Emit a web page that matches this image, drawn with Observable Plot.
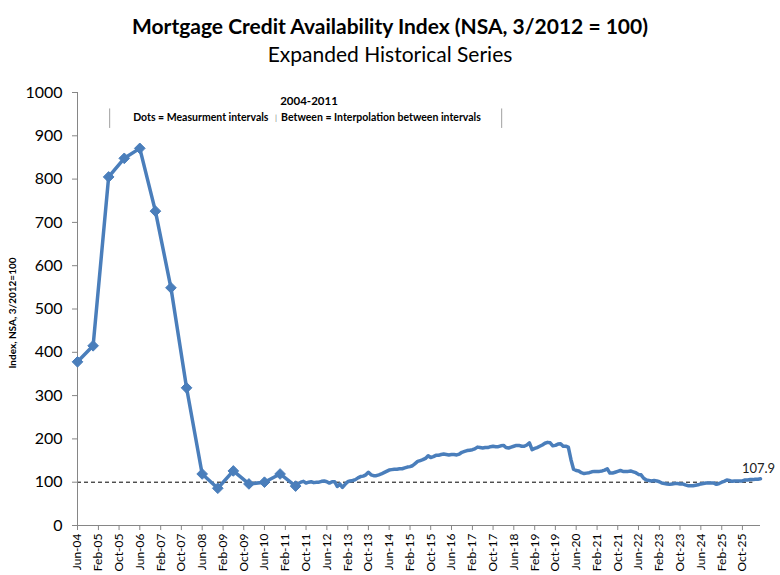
<!DOCTYPE html>
<html>
<head>
<meta charset="utf-8">
<script src="https://cdn.jsdelivr.net/npm/d3@7"></script>
<script src="https://cdn.jsdelivr.net/npm/@observablehq/plot@0.6"></script>
<style>
  html, body { margin: 0; padding: 0; background: #fff; }
  #wrap { position: relative; width: 780px; height: 575px; font-family: Lato, "Open Sans", sans-serif; color: #000; }
  #title { position: absolute; top: 13px; left: 0; width: 780px; text-align: center; font-size: 21px; font-weight: bold; line-height: 26px; }
  #subtitle { position: absolute; top: 41px; left: 0; width: 780px; text-align: center; font-size: 21px; line-height: 26px; }
  #chart { position: absolute; top: 72px; left: 0; }
</style>
</head>
<body>
<div id="wrap">
  <div id="title">Mortgage Credit Availability Index (NSA, 3/2012 = 100)</div>
  <div id="subtitle">Expanded Historical Series</div>
  <div id="chart"></div>
</div>
<script>
// Measurement intervals 2004-2011 (dots)
const earlyLabels = ["Jun-04","Dec-04","Jun-05","Dec-05","Jun-06","Dec-06","Jun-07","Dec-07","Jun-08","Dec-08","Jun-09","Dec-09","Jun-10","Dec-10","Jun-11"];
const earlyValues = [378, 415, 805, 848, 871, 726, 549, 318, 119, 86, 126, 96, 100, 119, 91];

// Monthly series from Jul-11
const monthlyStart = "Jul-11";
const monthlyValues = [
  97, 100, 102, 98, 100, 101, 99, 100, 100, 102, 103,
  101, 98, 101, 101, 90, 96, 88, 95, 101, 103, 104, 106,
  110, 113, 114, 117, 123, 117, 115, 115, 117, 119, 122, 125,
  128, 129, 130, 130, 131, 131, 133, 135, 136, 138, 143, 148,
  150, 152, 155, 161, 157, 159, 162, 162, 164, 165, 164, 163,
  164, 164, 163, 165, 169, 171, 173, 174, 175, 177, 181, 180,
  179, 180, 180, 182, 183, 182, 182, 184, 185, 180, 179, 181,
  183, 185, 185, 183, 183, 186, 191, 175, 178, 180, 183, 186,
  190, 192, 191, 184, 185, 188, 189, 183, 183, 181, 152, 130,
  127, 126, 122, 120, 121, 122, 124, 125, 125, 125, 126, 128,
  131, 121, 121, 123, 125, 127, 125, 125, 125, 126, 124, 122,
  118, 117, 109, 105, 104, 103, 104, 103, 101, 98, 97, 96,
  95, 96, 97, 97, 96, 96, 94, 92, 92, 92, 93, 94,
  96, 97, 98, 98, 98, 98, 95, 97, 100, 102, 105, 104,
  102, 103, 103, 103, 103, 105, 105, 106, 106, 107, 107, 107.9
];

const xTickLabels = ["Jun-04","Feb-05","Oct-05","Jun-06","Feb-07","Oct-07","Jun-08","Feb-09","Oct-09","Jun-10","Feb-11","Oct-11","Jun-12","Feb-13","Oct-13","Jun-14","Feb-15","Oct-15","Jun-16","Feb-17","Oct-17","Jun-18","Feb-19","Oct-19","Jun-20","Feb-21","Oct-21","Jun-22","Feb-23","Oct-23","Jun-24","Feb-25","Oct-25"];
const yTicks = [0, 100, 200, 300, 400, 500, 600, 700, 800, 900, 1000];
const referenceLevel = 100;

const yearNote = "2004-2011";
const noteLeft = "Dots = Measurment intervals";
const noteRight = "Between = Interpolation between intervals";
const yTitle = "Index, NSA, 3/2012=100";

const parse = d3.utcParse("%b-%y");
const fmt = d3.utcFormat("%b-%y");

const dots = earlyLabels.map((l, i) => ({date: parse(l), value: earlyValues[i]}));
const start = parse(monthlyStart);
const monthly = monthlyValues.map((v, i) => ({date: d3.utcMonth.offset(start, i), value: v}));
const series = dots.concat(monthly);
const last = series[series.length - 1];
const xTicks = xTickLabels.map(parse);

const blue = "#4A7EBB";
const gray = "#868686";
const d = s => new Date(s);

const chart = Plot.plot({
  width: 780,
  height: 503,
  marginLeft: 77,
  marginRight: 20,
  marginTop: 20,
  marginBottom: 50,
  style: {fontFamily: "Lato, 'Open Sans', sans-serif", color: "#000", background: "#fff"},
  x: {type: "utc", domain: [parse("Jun-04"), parse("May-26")]},
  y: {domain: [0, 1000]},
  marks: [
    Plot.ruleY([{y: referenceLevel, x1: parse("Jun-04"), x2: parse("Feb-26")}], {y: "y", x1: "x1", x2: "x2", stroke: "#000", strokeWidth: 1, strokeDasharray: "4,3"}),
    Plot.ruleY([0], {stroke: gray, strokeWidth: 1}),
    Plot.ruleX([{x: parse("Jun-04")}], {x: "x", stroke: gray, strokeWidth: 1}),
    Plot.axisY({ticks: yTicks, tickFormat: v => String(v), tickSize: 5, tickPadding: 10, fontSize: 16, stroke: gray, label: null}),
    Plot.axisX({ticks: xTicks, tickFormat: fmt, tickRotate: -90, tickSize: 5, tickPadding: 3, fontSize: 12, stroke: gray, label: null}),
    Plot.line(series, {x: "date", y: "value", stroke: blue, strokeWidth: 3.5, strokeLinejoin: "round"}),
    Plot.dot(dots, {x: "date", y: "value", symbol: "diamond2", r: 4.8, fill: blue, stroke: blue, strokeWidth: 1}),
    Plot.text([last], {x: "date", y: "value", text: v => v.value.toFixed(1), dy: -10, dx: -2, fontSize: 13, fill: "#222"}),
    // annotation
    Plot.text([{x: d("2011-11-05"), y: 980, t: yearNote}], {x: "x", y: "y", text: "t", fontSize: 11.5, fontWeight: "bold"}),
    Plot.text([{x: d("2010-07-18"), y: 941, t: noteLeft}], {x: "x", y: "y", text: "t", textAnchor: "end", fontSize: 10.5, fontWeight: "bold"}),
    Plot.text([{x: d("2010-10-13"), y: 941, t: "|"}], {x: "x", y: "y", text: "t", fontSize: 8, fill: gray}),
    Plot.text([{x: d("2010-12-13"), y: 941, t: noteRight}], {x: "x", y: "y", text: "t", textAnchor: "start", fontSize: 10.5, fontWeight: "bold"}),
    Plot.ruleX([{x: d("2005-06-13"), y1: 917, y2: 962}, {x: d("2018-01-10"), y1: 917, y2: 962}], {x: "x", y1: "y1", y2: "y2", stroke: "#a0a0a0", strokeWidth: 1}),
    // y title
    Plot.text([yTitle], {frameAnchor: "left", textAnchor: "middle", text: t => t, rotate: -90, dx: -65, dy: 4, fontSize: 10, fontWeight: "bold"})
  ]
});
document.getElementById("chart").appendChild(chart);
</script>
</body>
</html>
